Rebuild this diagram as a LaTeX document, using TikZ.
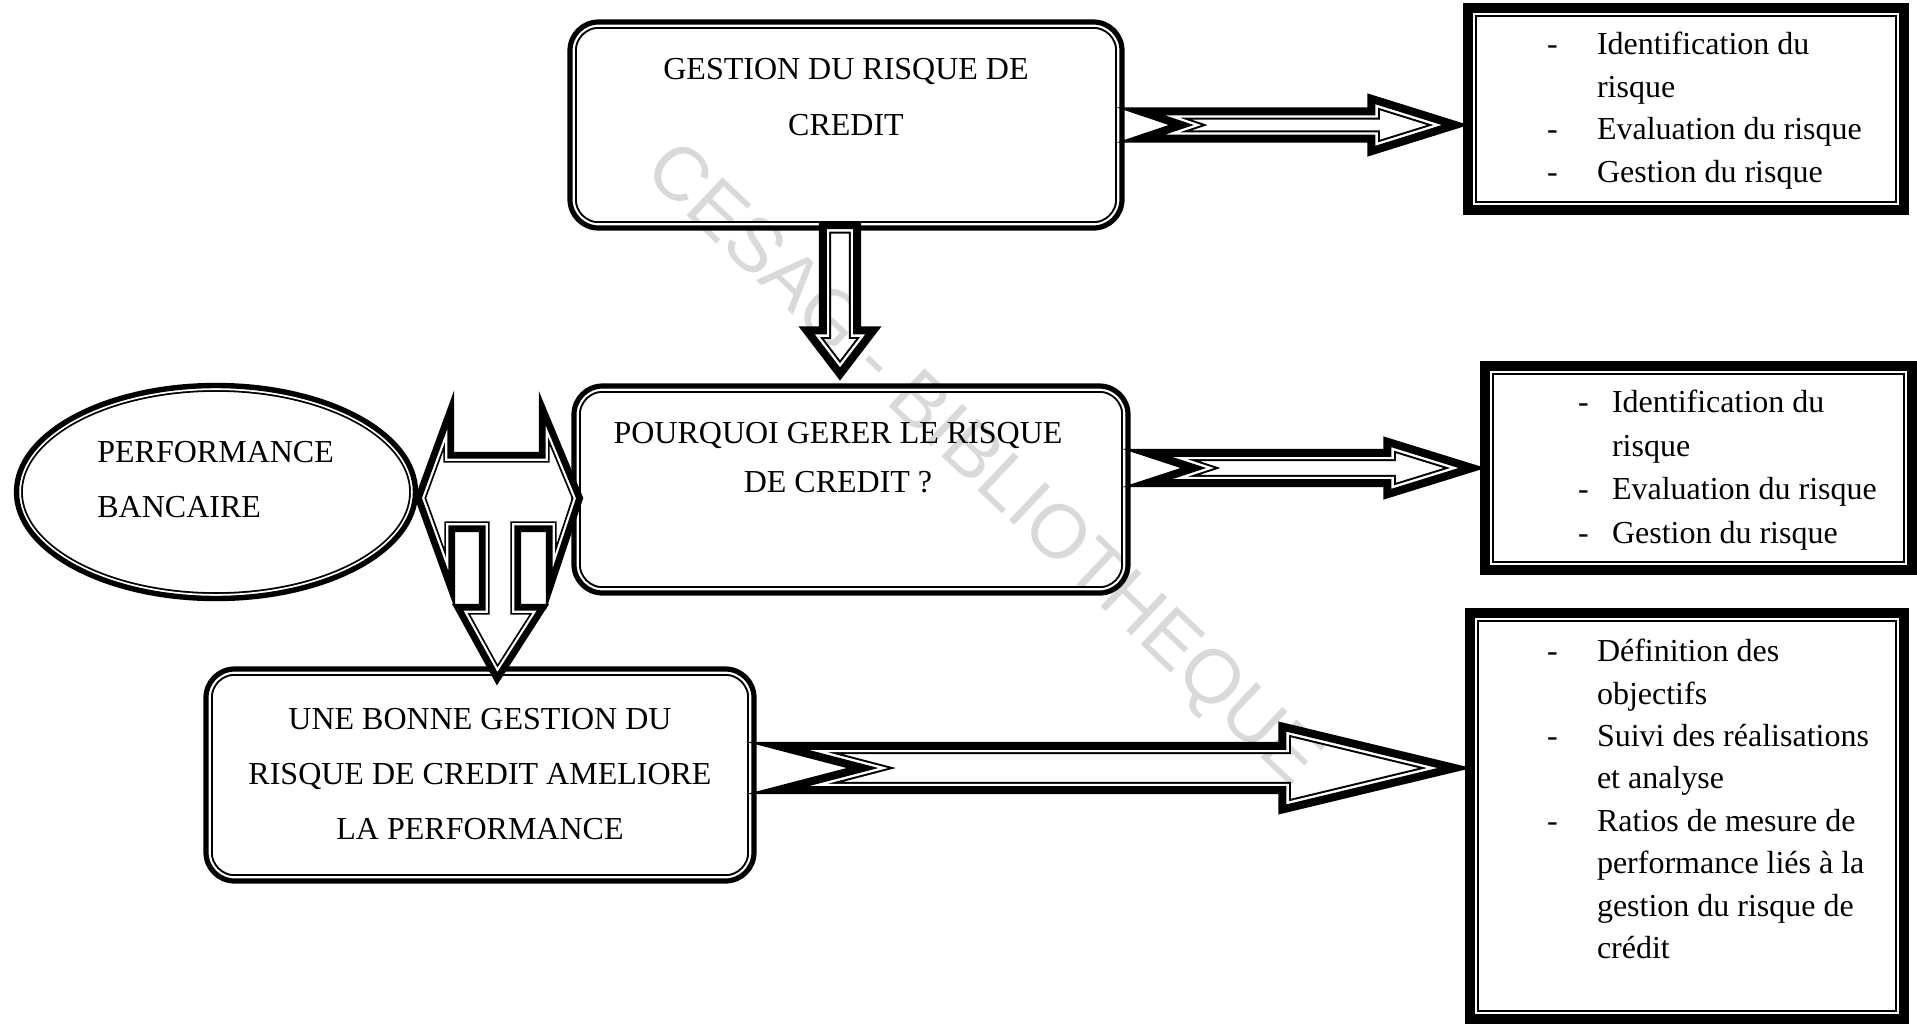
\documentclass[tikz,border=0pt]{standalone}
\usepackage{fontspec}
\setmainfont{Liberation Serif}
\newfontfamily\sansfiligrane{Liberation Sans}
\usetikzlibrary{positioning,calc}

% trait double epais-mince, trace a l'interieur du chemin
\newcommand\traitdouble[4]{%
  \begin{scope}
    \clip #4;
    \draw[line width={2*(#1+#2+#3)*1pt}] #4;
    \draw[white,line width={2*(#1+#2)*1pt}] #4;
    \draw[line width={2*#1*1pt}] #4;
  \end{scope}
  \draw[line width=1.2pt] #4;
}
% fleche a queue encochee : depart, pointe, demi-corps, demi-tete, longueur tete, encoche
\newcommand\flecheh[6]{%
  \traitdouble{3.4}{1.2}{1.0}{($(#1)+(0,-#3)$) -- ($(#2)+(-#5,-#3)$) -- ($(#2)+(-#5,-#4)$) -- (#2)
    -- ($(#2)+(-#5,#4)$) -- ($(#2)+(-#5,#3)$) -- ($(#1)+(0,#3)$) -- ($(#1)+(#6,0)$) -- cycle}%
}

\begin{document}
\begin{tikzpicture}[x=0.5pt,y=-0.5pt,
    cadre/.style={rectangle,inner sep=0pt},
    texte/.style={align=center,inner sep=0pt,anchor=base,font=\fontsize{16}{#1}\selectfont},
    texte/.default=27.5,
    liste/.style={anchor=base west,inner sep=0pt,font=\fontsize{16}{#1}\selectfont},
    filigrane/.style={text=gray!30,rotate=-43.4,font=\sansfiligrane\fontsize{38}{38}\selectfont}
  ]
  \useasboundingbox (0,0) rectangle (1917,1025);

  \node(w) [filigrane] at (981,467) {CESAG - BIBLIOTHEQUE};

  \node(r1) [cadre,minimum width=277pt,minimum height=104pt] at (846,125) {};
  \node(r2) [cadre,minimum width=278pt,minimum height=104.5pt] at (851,489.5) {};
  \node(r3) [cadre,minimum width=275pt,minimum height=107pt] at (480,775) {};
  \node(e1) [cadre,minimum width=201pt,minimum height=108pt] at (216,492) {};

  \node(l1) [cadre,minimum width=221pt,minimum height=104pt] at (1686,109) {};
  \node(l2) [cadre,minimum width=216.5pt,minimum height=105pt] at (1698.5,468) {};
  \node(l3) [cadre,minimum width=220pt,minimum height=206pt] at (1687,816) {};

  \traitdouble{2.0}{1.1}{1.0}{[rounded corners=15pt] (r1.south west) rectangle (r1.north east)}
  \traitdouble{2.0}{1.1}{1.0}{[rounded corners=15pt] (r2.south west) rectangle (r2.north east)}
  \traitdouble{2.0}{1.1}{1.0}{[rounded corners=15pt] (r3.south west) rectangle (r3.north east)}
  \traitdouble{2.1}{0.9}{0.9}{(e1.center) ellipse [x radius=100.5pt,y radius=54pt]}

  \traitdouble{4.1}{1.1}{1.0}{(l1.south west) rectangle (l1.north east)}
  \traitdouble{4.1}{1.1}{1.0}{(l2.south west) rectangle (l2.north east)}
  \traitdouble{4.1}{1.1}{1.0}{(l3.south west) rectangle (l3.north east)}

  % la base d'un texte sur plusieurs lignes est celle de la derniere ligne
  \node(t1) [texte=28] at ([yshift=-57.5pt]r1.north) {GESTION DU RISQUE DE\\CREDIT};
  \node(t2) [texte=24.5] at ([xshift=-6.5pt,yshift=-54pt]r2.north) {POURQUOI GERER LE RISQUE\\DE CREDIT ?};
  \node(t3) [texte] at ([yshift=-86pt]r3.north) {UNE BONNE GESTION DU\\RISQUE DE CREDIT AMELIORE\\LA PERFORMANCE};
  \node(t4) [texte,align=left,anchor=base west] at ([shift={(-119,25)}]e1.center) {PERFORMANCE\\BANCAIRE};

  \node(p1) [liste=21.3] at ([shift={(82,50)}]l1.north west) {\begin{tabular}[t]{@{}p{25pt}@{}l@{}}
    - & Identification du\\ & risque\\ - & Evaluation du risque\\ - & Gestion du risque
  \end{tabular}};
  \node(p2) [liste=21.8] at ([shift={(96,50)}]l2.north west) {\begin{tabular}[t]{@{}p{17pt}@{}l@{}}
    - & Identification du\\ & risque\\ - & Evaluation du risque\\ - & Gestion du risque
  \end{tabular}};
  \node(p3) [liste=21.2] at ([shift={(80,52)}]l3.north west) {\begin{tabular}[t]{@{}p{25pt}@{}l@{}}
    - & D\'efinition des\\ & objectifs\\ - & Suivi des r\'ealisations\\ & et analyse\\
    - & Ratios de mesure de\\ & performance li\'es \`a la\\ & gestion du risque de\\ & cr\'edit
  \end{tabular}};

  % fleches
  \coordinate(a1) at (r1.east -| l1.west);
  \flecheh{r1.east}{a1}{16.5}{30}{96}{49}
  \coordinate(s2) at (r2.east |- l2.west);
  \flecheh{s2}{l2.west}{18}{30}{97}{55}
  \coordinate(s3) at ([yshift=3.5pt]r3.east);
  \coordinate(a3) at (s3 -| l3.west);
  \flecheh{s3}{a3}{25}{45}{187}{96}

  \coordinate(d0) at ([xshift=-3pt,yshift=3.5pt]r1.south);
  \coordinate(d1) at ([yshift=3pt]d0 |- r2.north);
  \traitdouble{3.4}{1.2}{1.0}{($(d0)+(-20,0)$) -- ($(d0)+(20,0)$) -- ($(d1)+(20,-51)$) -- ($(d1)+(39,-51)$)
    -- (d1) -- ($(d1)+(-39,-51)$) -- ($(d1)+(-20,-51)$) -- cycle}

  % fleche gauche-droite-bas
  \coordinate(tc) at (497,498);
  \begin{scope}[shift={(tc)}]
    \traitdouble{2.8}{1.1}{0.9}{(-81,0) -- (-44,-101) -- (-44,-45) -- (43,-45) -- (43,-101) -- (85,0)
      -- (50,105) -- (50,33) -- (23,33) -- (23,107) -- (50,107) -- (0,185) -- (-43,107) -- (-17,107)
      -- (-17,33) -- (-43,33) -- (-43,105) -- cycle}
  \end{scope}

\end{tikzpicture}
\end{document}
